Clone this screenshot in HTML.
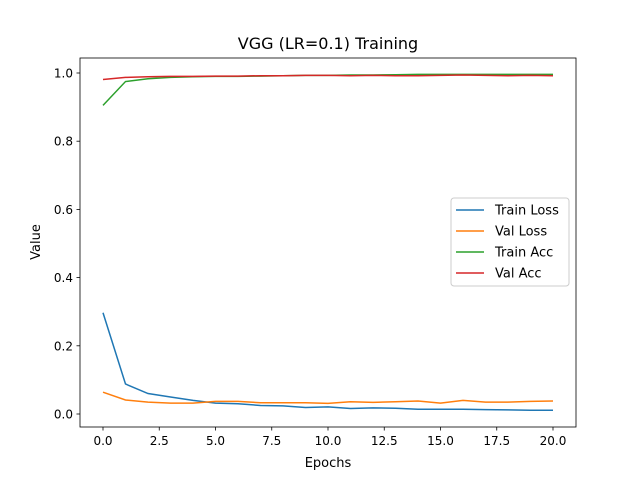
<!DOCTYPE html>
<html><head><meta charset="utf-8"><style>
body{margin:0;background:#fff;}
svg text{font-family:"DejaVu Sans","Liberation Sans",sans-serif;fill:#000;}
</style></head><body>
<svg id="chart" width="640" height="480" xmlns="http://www.w3.org/2000/svg">
<rect width="640" height="480" fill="#fff"/>
<text x="328" y="49" font-size="16" text-anchor="middle">VGG (LR=0.1) Training</text>
<g id="grid"></g>
<g id="series"></g>
<rect x="80" y="58" width="496" height="369" fill="none" stroke="#000" stroke-width="0.8"/>
<text x="328" y="467" font-size="13" text-anchor="middle">Epochs</text>
<text transform="translate(40,242) rotate(-90)" font-size="13" text-anchor="middle">Value</text>
<g id="legend">
<rect x="451" y="198" width="118" height="88" rx="3" fill="#fff" stroke="#ccc" stroke-width="1"/>
</g>
</svg>
<script>
const epochs=[0,1,2,3,4,5,6,7,8,9,10,11,12,13,14,15,16,17,18,19,20];
const trainLoss=[0.297,0.088,0.060,0.050,0.040,0.032,0.030,0.025,0.024,0.019,0.021,0.016,0.018,0.017,0.014,0.014,0.014,0.013,0.012,0.011,0.011];
const valLoss=[0.064,0.041,0.035,0.032,0.032,0.037,0.037,0.033,0.033,0.033,0.031,0.036,0.034,0.036,0.038,0.032,0.040,0.035,0.035,0.037,0.038];
const trainAcc=[0.905,0.975,0.983,0.987,0.989,0.990,0.990,0.991,0.992,0.993,0.993,0.994,0.994,0.995,0.996,0.996,0.996,0.996,0.996,0.996,0.996];
const valAcc=[0.981,0.987,0.989,0.990,0.990,0.991,0.991,0.992,0.992,0.993,0.993,0.992,0.993,0.992,0.992,0.993,0.994,0.993,0.992,0.993,0.992];
const xTicks=[0,2.5,5,7.5,10,12.5,15,17.5,20];
const xTickLabels=["0.0","2.5","5.0","7.5","10.0","12.5","15.0","17.5","20.0"];
const yTicks=[0,0.2,0.4,0.6,0.8,1.0];
const yTickLabels=["0.0","0.2","0.4","0.6","0.8","1.0"];
const seriesNames=["Train Loss","Val Loss","Train Acc","Val Acc"];
const colors=["#1f77b4","#ff7f0e","#2ca02c","#d62728"];
const NS="http://www.w3.org/2000/svg";
function xs(v){return 103+v*22.5;}
function ys(v){return 414-v*341;}
const g=document.getElementById('grid');
xTicks.forEach((t,i)=>{
 const l=document.createElementNS(NS,'line');
 l.setAttribute('x1',xs(t));l.setAttribute('x2',xs(t));l.setAttribute('y1',427);l.setAttribute('y2',430.5);l.setAttribute('stroke','#000');l.setAttribute('stroke-width','0.8');
 
 
 g.appendChild(l);
 const tx=document.createElementNS(NS,'text');
 tx.setAttribute('x',xs(t));tx.setAttribute('y',445);tx.setAttribute('font-size','12');tx.setAttribute('text-anchor','middle');tx.textContent=xTickLabels[i];
 
 
 g.appendChild(tx);
});
yTicks.forEach((t,i)=>{
 const l=document.createElementNS(NS,'line');
 l.setAttribute('x1',76.5);l.setAttribute('x2',80);l.setAttribute('y1',ys(t));l.setAttribute('y2',ys(t));l.setAttribute('stroke','#000');l.setAttribute('stroke-width','0.8');
 
 
 g.appendChild(l);
 const tx=document.createElementNS(NS,'text');
 tx.setAttribute('x',73);tx.setAttribute('y',ys(t)+4.5);tx.setAttribute('font-size','12');tx.setAttribute('text-anchor','end');tx.textContent=yTickLabels[i];
 
 
 g.appendChild(tx);
});
const s=document.getElementById('series');
const allData=[trainLoss,valLoss,trainAcc,valAcc];
const lineNames=['train-loss-line','val-loss-line','train-acc-line','val-acc-line'];
allData.forEach((d,k)=>{
 const p=document.createElementNS(NS,'polyline');
 p.setAttribute('points',d.map((v,i)=>xs(epochs[i])+','+ys(v)).join(' '));
 p.setAttribute('fill','none');p.setAttribute('stroke',colors[k]);p.setAttribute('stroke-width','1.5');
 
 
 s.appendChild(p);
});
const lg=document.getElementById('legend');
seriesNames.forEach((n,k)=>{
 const y=210+k*21;
 const l=document.createElementNS(NS,'line');
 l.setAttribute('x1',456);l.setAttribute('x2',484);l.setAttribute('y1',y);l.setAttribute('y2',y);l.setAttribute('stroke',colors[k]);l.setAttribute('stroke-width','1.5');
 
 
 lg.appendChild(l);
 const tx=document.createElementNS(NS,'text');
 tx.setAttribute('x',495);tx.setAttribute('y',y+4.5);tx.setAttribute('font-size','13');tx.textContent=n;
 
 
 lg.appendChild(tx);
});
</script>
</body></html>
